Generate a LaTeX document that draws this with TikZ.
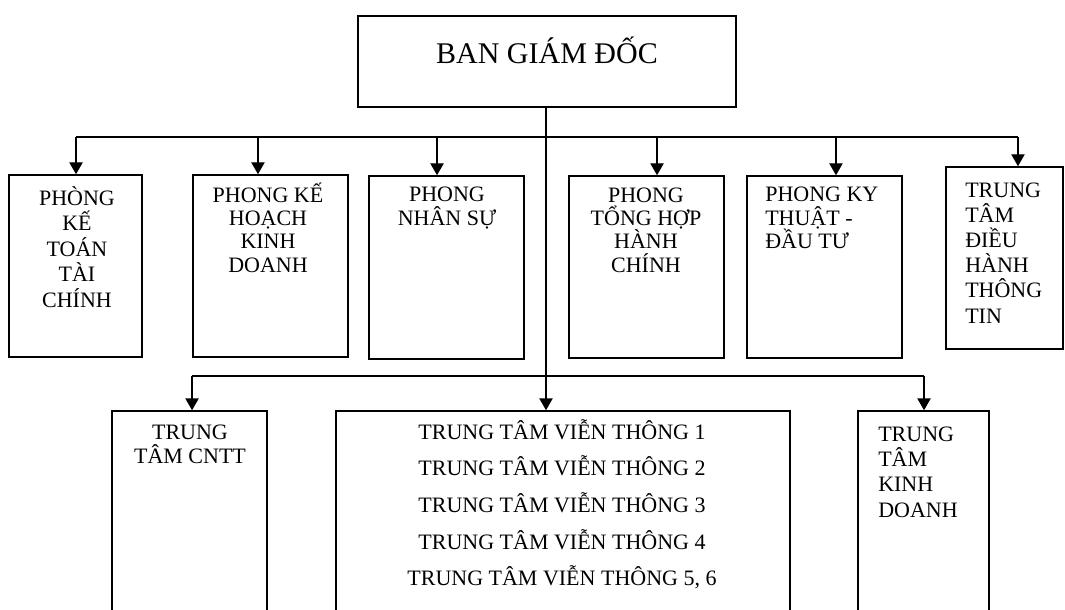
\documentclass[tikz,border=0pt]{standalone}
\usepackage{fontspec}
\setmainfont{Liberation Serif}
\usetikzlibrary{arrows.meta}
\tikzset{
  box/.style={draw, line width=1.1pt, inner sep=0pt},
  line/.style={draw, line width=1.1pt},
  arr/.style={line width=1.1pt, -{Triangle[width=10pt,length=9pt]}},
  lbl/.style={inner sep=0pt, anchor=base, font=\fontsize{16.5}{17.5}\selectfont},
  lblw/.style={lbl, align=center},
  lbll/.style={lbl, align=left, anchor=base west},
}
\begin{document}
\begin{tikzpicture}[x=0.75pt,y=-0.75pt]
\useasboundingbox (0,0) rectangle (1065,610);
\clip (0,0) rectangle (1065,610);
% boxes
\node[box, minimum width=283.5pt, minimum height=68.25pt] (top) at (547,61.5) {};
\node[box, minimum width=99.75pt, minimum height=136.5pt] (b1) at (75.5,266) {};
\node[box, minimum width=116.25pt, minimum height=136.5pt] (b2) at (270.5,266) {};
\node[box, minimum width=116.25pt, minimum height=137.25pt] (b3) at (446.5,267.5) {};
\node[box, minimum width=116.25pt, minimum height=136.5pt] (b4) at (646.5,267) {};
\node[box, minimum width=116.25pt, minimum height=136.5pt] (b5) at (824.5,267) {};
\node[box, minimum width=87.75pt, minimum height=136.5pt] (b6) at (1004.5,258) {};
\node[box, minimum width=116.25pt, minimum height=164.25pt] (b7) at (189.5,520.5) {};
\node[box, minimum width=340.5pt, minimum height=164.25pt] (b8) at (563,520.5) {};
\node[box, minimum width=98.25pt, minimum height=164.25pt] (b9) at (923.5,520.5) {};
% texts (anchor = baseline of last line)
\node[lbl, font=\fontsize{22.5}{24}\selectfont] (t0) at (547,64) {BAN GIÁM ĐỐC};
\node[lblw, font=\fontsize{16.5}{19.1}\selectfont] (t1) at (77,307) {PHÒNG\\KẾ\\TOÁN\\TÀI\\CHÍNH};
\node[lblw] (t2) at (268,272) {PHONG KẾ\\HOẠCH\\KINH\\DOANH};
\node[lblw] (t3) at (447,225.3) {PHONG\\NHÂN SỰ};
\node[lblw] (t4) at (646,272) {PHONG\\TỔNG HỢP\\HÀNH\\CHÍNH};
\node[lbll] (t5) at (765,248.6) {PHONG KY\\THUẬT -\\ĐẦU TƯ};
\node[lbll, font=\fontsize{16.5}{18.9}\selectfont] (t6) at (965,323) {TRUNG\\TÂM\\ĐIỀU\\HÀNH\\THÔNG\\TIN};
\node[lblw, font=\fontsize{16.5}{18}\selectfont] (t7) at (190,463) {TRUNG\\TÂM CNTT};
\node[lblw, font=\fontsize{16.5}{27.5}\selectfont] (t8) at (562,585.7) {TRUNG TÂM VIỄN THÔNG 1\\TRUNG TÂM VIỄN THÔNG 2\\TRUNG TÂM VIỄN THÔNG 3\\TRUNG TÂM VIỄN THÔNG 4\\TRUNG TÂM VIỄN THÔNG 5, 6};
\node[lbll, font=\fontsize{16.5}{19}\selectfont] (t9) at (878,517) {TRUNG\\TÂM\\KINH\\DOANH};
% bus coordinates
\coordinate (bus1) at (546,137);
\coordinate (bus2) at (546,376);
\coordinate (a1) at ([xshift=0.4pt]b1.north);
\coordinate (a2) at ([xshift=-9.4pt]b2.north);
\coordinate (a3) at ([xshift=-7.1pt]b3.north);
\coordinate (a4) at ([xshift=7.9pt]b4.north);
\coordinate (a5) at ([xshift=8.6pt]b5.north);
\coordinate (a6) at ([xshift=10.1pt]b6.north);
\coordinate (a7) at ([xshift=1.9pt]b7.north);
\coordinate (a9) at ([xshift=0.4pt]b9.north);
% connectors
\draw[arr] (top.south -| bus1) -- (bus1 |- b8.north);
\draw[line] (a1 |- bus1) -- (a6 |- bus1);
\draw[line] (a7 |- bus2) -- (a9 |- bus2);
\foreach \a in {a1,a2,a3,a4,a5,a6}{\draw[arr] (\a |- bus1) -- (\a);}
\foreach \a in {a7,a9}{\draw[arr] (\a |- bus2) -- (\a);}
\end{tikzpicture}
\end{document}
